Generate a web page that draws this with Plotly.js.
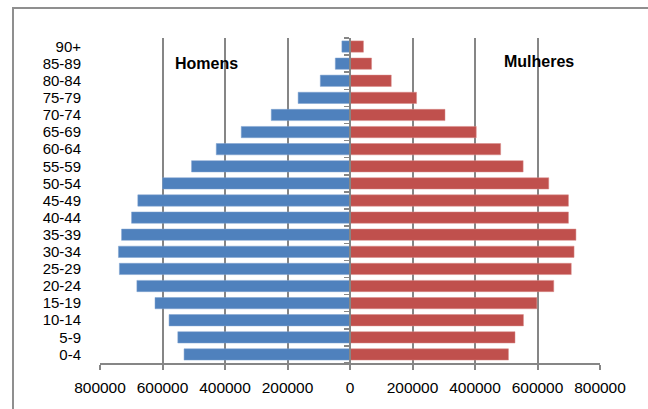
<!DOCTYPE html>
<html>
<head>
<meta charset="utf-8">
<script src="https://cdn.plot.ly/plotly-3.0.1.min.js"></script>
<style>
  html, body { margin: 0; padding: 0; background: #ffffff; }
  #chart { position: absolute; left: 0; top: 0; width: 648px; height: 409px; }
  #frame { position: absolute; left: 12px; top: 7px; width: 700px; height: 500px;
           border: 2px solid #8f8f8f; pointer-events: none; box-sizing: border-box; }
</style>
</head>
<body>
<div id="chart"></div>
<div id="frame"></div>
<script>
// Age groups, bottom to top
const ageGroups = ['0-4','5-9','10-14','15-19','20-24','25-29','30-34','35-39','40-44','45-49',
                   '50-54','55-59','60-64','65-69','70-74','75-79','80-84','85-89','90+'];
// Population by sex (absolute values)
const homens   = [531000, 551000, 579000, 624000, 682000, 738000, 741000, 731000, 699000, 679000,
                  600000, 507000, 428000, 348000, 252000, 166000, 95000, 47000, 26000];
const mulheres = [507000, 528000, 555000, 598000, 652000, 708000, 717000, 723000, 699000, 699000,
                  636000, 554000, 482000, 404000, 304000, 213000, 132000, 69000, 43000];
// X tick values and labels
const xTickVals = [-800000, -600000, -400000, -200000, 0, 200000, 400000, 600000, 800000];
const xTickText = ['800000','600000','400000','200000','0','200000','400000','600000','800000'];
// Series labels
const seriesNames = ['Homens', 'Mulheres'];

const grey = '#868686';
const font = 'Liberation Sans, Arial, sans-serif';

const traces = [
  {
    type: 'bar', orientation: 'h', name: seriesNames[0],
    y: ageGroups, x: homens.map(v => -v), yaxis: 'y',
    marker: { color: '#4F81BD', line: { color: '#7fa3d0', width: 0.5 } },
    hoverinfo: 'skip'
  },
  {
    type: 'bar', orientation: 'h', name: seriesNames[1],
    y: ageGroups, x: mulheres, yaxis: 'y2',
    marker: { color: '#C0504D', line: { color: '#d88a88', width: 0.5 } },
    hoverinfo: 'skip'
  }
];

const layout = {
  width: 648, height: 409,
  margin: { l: 100, r: 48, t: 38, b: 46 },
  paper_bgcolor: '#ffffff', plot_bgcolor: '#ffffff',
  showlegend: false,
  barmode: 'overlay',
  bargap: 0.34,
  font: { family: font, color: '#000000' },
  xaxis: {
    range: [-800000, 800000],
    tickmode: 'array', tickvals: xTickVals, ticktext: xTickText,
    showgrid: true, gridcolor: grey, gridwidth: 2,
    zeroline: false,
    showline: true, linecolor: grey, linewidth: 2,
    ticks: 'outside', ticklen: 5, tickcolor: grey, tickwidth: 2,
    ticklabelstandoff: 4,
    tickfont: { family: font, size: 15.5, color: '#000000' },
    fixedrange: true
  },
  yaxis: {
    type: 'category', categoryorder: 'array', categoryarray: ageGroups,
    tickmode: 'array', tickvals: ageGroups, ticktext: ageGroups,
    range: [-0.5, 18.5],
    showgrid: false, zeroline: false, showline: false, ticks: '',
    ticklabelstandoff: 18,
    tickfont: { family: font, size: 15, color: '#000000' },
    fixedrange: true
  },
  yaxis2: {
    type: 'category', categoryorder: 'array', categoryarray: ageGroups,
    tickmode: 'array', tickvals: ageGroups, ticktext: ageGroups,
    range: [-0.5, 18.5],
    overlaying: 'y', anchor: 'free', position: 0.5, side: 'left',
    showgrid: false, zeroline: false,
    showline: true, linecolor: grey, linewidth: 2,
    ticks: 'outside', tickson: 'boundaries', ticklen: 5, tickcolor: grey, tickwidth: 1.5,
    showticklabels: false,
    layer: 'above traces',
    fixedrange: true
  },
  annotations: [
    { text: '<b>' + seriesNames[0] + '</b>', xref: 'x', yref: 'paper', x: -460000, y: 0.923,
      xanchor: 'center', yanchor: 'middle',
      showarrow: false, font: { family: font, size: 16, color: '#000000' } },
    { text: '<b>' + seriesNames[1] + '</b>', xref: 'x', yref: 'paper', x: 605000, y: 0.929,
      xanchor: 'center', yanchor: 'middle',
      showarrow: false, font: { family: font, size: 16, color: '#000000' } }
  ]
};

Plotly.newPlot('chart', traces, layout, { staticPlot: true, displayModeBar: false });
</script>
</body>
</html>
